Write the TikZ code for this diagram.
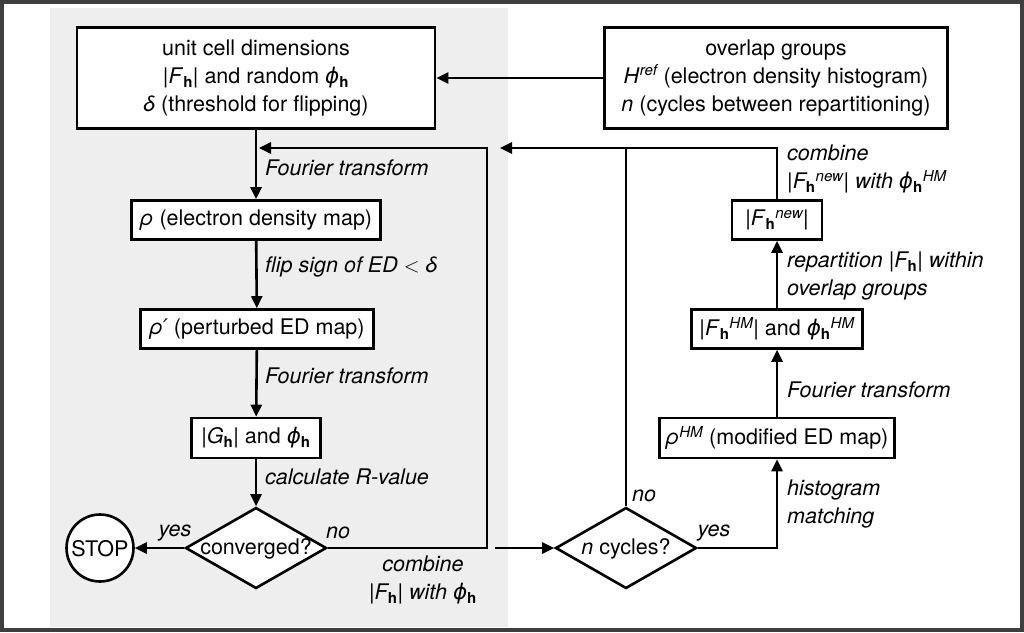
\documentclass[tikz,border=0pt]{standalone}
\usepackage{amsmath}
\usepackage{fontspec}
\setmainfont{TeX Gyre Heros}
\newfontfamily\symfont{DejaVu Sans}
\usepackage{tikz}
\usetikzlibrary{arrows.meta}
\usetikzlibrary{shapes.geometric}
\definecolor{panelgray}{HTML}{EEEEEE}
\definecolor{framegray}{HTML}{3E3E3E}
\newcommand{\hb}{\textup{\textbf{h}}}
\newcommand{\gph}{{\symfont\itshape ϕ}}
\newcommand{\flowbox}[6]{\node[flowbox, minimum width=#4pt, minimum height=#5pt] (#1) at ( #2 , #3 ) {#6};}
\newcommand{\flowlabel}[4]{\node[flowlabel, anchor=west] (#1) at ( #2 , #3 ) {#4};}
\tikzset{
  every node/.style={font=\fontsize{21.5}{28}\selectfont, inner sep=0pt},
  flowbox/.style={draw, line width=2.6pt, fill=white, align=center},
  flowlabel/.style={font=\fontsize{21.5}{28}\selectfont\itshape, align=left},
  decision/.style={draw, diamond, line width=2.6pt, fill=white, minimum width=141pt, minimum height=81pt},
  stopnode/.style={draw, circle, line width=2.6pt, fill=white, minimum size=67pt},
  flowline/.style={line width=2.6pt},
  flowarrow/.style={line width=2.6pt, -{Triangle[length=12pt,width=11pt]}}
}

\begin{document}
\begin{tikzpicture}[x=1pt,y=-1pt]
        \useasboundingbox (0,0) rectangle (1024,632);
        % frame and shaded panel
        \fill[panelgray] (50,8) rectangle (508,627);
        \draw[framegray, line width=4pt] (2,2) rectangle (1022,630);

        % input boxes
        \flowbox{init}{256}{78}{358}{101}{unit cell dimensions\\ |\textit{F}$_{\hb}$| and random \gph$_{\hb}$\\ \textit{δ} (threshold for flipping)}
        \flowbox{overlap}{776}{78}{343}{101}{overlap groups\\ \textit{H}$^{\textit{ref}}$ (electron density histogram)\\ \textit{n} (cycles between repartitioning)}

        % left column
        \flowbox{rho}{256}{220}{249}{39}{\textit{ρ} (electron density map)}
        \flowbox{rhop}{257}{329}{233}{39}{\textit{ρ}{\symfont\itshape ′} (perturbed ED map)}
        \flowbox{gh}{256}{438}{129}{40}{|\textit{G}$_{\hb}$| and \gph$_{\hb}$}
        \node[decision] (conv) at (256,548) {};
        \node (convtxt) at (256,549) {converged?};
        \node[stopnode] (stop) at (100,548) {};
        \node (stoptxt) at (100,549) {STOP};

        % right column
        \flowbox{fnew}{777}{220}{90}{39}{|\textit{F}$_{\hb}{}^{\textit{new}}$|}
        \flowbox{fhm}{777}{329}{171}{39}{|\textit{F}$_{\hb}{}^{\textit{HM}}$| and \gph$_{\hb}{}^{\textit{HM}}$}
        \flowbox{rhohm}{777}{438}{235}{40}{\textit{ρ}$^{\textit{HM}}$ (modified ED map)}
        \node[decision] (ncyc) at (626,548) {};
        \node (ncyctxt) at (626,549) {\textit{n} cycles?};

        % labels
        \flowlabel{ftA}{265}{168}{Fourier transform}
        \flowlabel{flip}{265}{267}{flip sign of ED $<$ δ}
        \flowlabel{ftB}{265}{376}{Fourier transform}
        \flowlabel{rval}{265}{477}{calculate R-value}
        \node[flowlabel] (yesA) at (175,533) {yes};
        \node[flowlabel] (noA) at (338,533) {no};
        \node[flowlabel, align=center] (combA) at (423,580) {combine\\ \textup{|}\textit{F}$_{\hb}$\textup{|} with \gph$_{\hb}$};
        \node[flowlabel] (noB) at (644,496) {no};
        \node[flowlabel] (yesB) at (714,533) {yes};
        \flowlabel{combB}{787}{169}{combine\\ \textup{|}\textit{F}$_{\hb}{}^{\textit{new}}$\textup{|} with \gph$_{\hb}{}^{\textit{HM}}$}
        \flowlabel{repart}{787}{276}{repartition \textup{|}\textit{F}$_{\hb}$\textup{|} within\\ overlap groups}
        \flowlabel{ftC}{787}{390}{Fourier transform}
        \flowlabel{histm}{787}{504}{histogram\\ matching}

        % arrows
        \coordinate (retcorner) at (487,148);
        \coordinate (retend) at (259,148);
        \coordinate (cstart) at (495,548);
        \coordinate (topend) at (500,148);
        \draw[flowarrow] (overlap) -- (init);
        \draw[flowarrow] (init) -- (rho);
        \draw[flowarrow] (rho) -- (rhop);
        \draw[flowarrow] (rhop) -- (gh);
        \draw[flowarrow] (gh) -- (conv);
        \draw[flowarrow] (conv) -- (stop);
        \draw[flowarrow] (conv.east) -| (retcorner) -- (retend);
        \draw[flowarrow] (cstart) -- (ncyc);
        \draw[flowarrow] (ncyc.east) -| (rhohm.south);
        \draw[flowarrow] (rhohm) -- (fhm);
        \draw[flowarrow] (fhm) -- (fnew);
        \draw[flowarrow] (fnew.north) |- (topend);
        \draw[flowline] (ncyc.north) -- (ncyc.north |- topend);
\end{tikzpicture}
\end{document}
